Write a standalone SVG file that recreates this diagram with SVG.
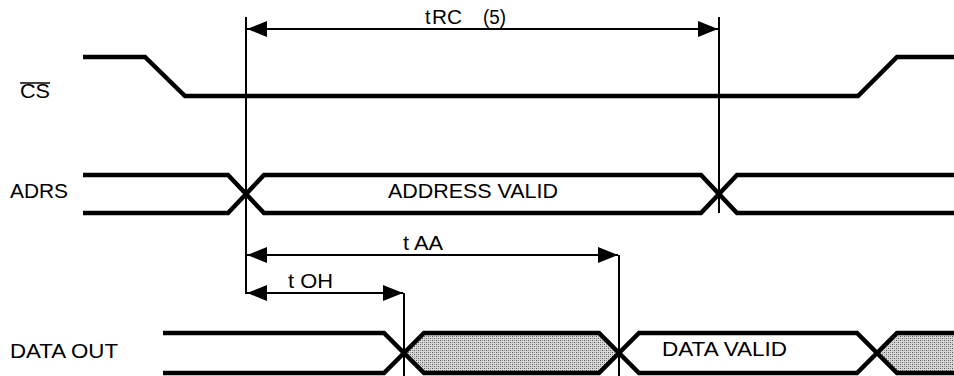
<svg xmlns="http://www.w3.org/2000/svg" width="954" height="376" viewBox="0 0 954 376">
<style>
.sig{fill:none;stroke:#000;stroke-width:4.5;stroke-linejoin:miter}
.ref{fill:none;stroke:#000;stroke-width:2}
.dim{fill:none;stroke:#000;stroke-width:2.2}
.lbl{font-family:"Liberation Sans",Arial,sans-serif;font-size:20px;fill:#000}
.hatch{fill:url(#stip);stroke:none}
</style>
<defs>
<pattern id="stip" width="4" height="4" patternUnits="userSpaceOnUse">
<rect width="4" height="4" fill="#d8d8d8"/>
<rect x="0" y="0" width="1" height="1" fill="#555"/>
<rect x="2" y="2" width="1" height="1" fill="#555"/>
<rect x="2" y="0" width="1" height="1" fill="#999"/>
<rect x="0" y="2" width="1" height="1" fill="#999"/>
</pattern>
<marker id="ah" markerWidth="20" markerHeight="16" refX="20" refY="8" orient="auto-start-reverse" markerUnits="userSpaceOnUse">
<path d="M0,0 L20,8 L0,16 Z" fill="#000"/>
</marker>
</defs>

<g id="cs">
<text class="lbl" x="20" y="98" textLength="30" lengthAdjust="spacingAndGlyphs">CS</text>
<line x1="20" y1="83" x2="50" y2="83" stroke="#000" stroke-width="1.5"/>
<path class="sig" d="M83,57 H145 L185,96 H858 L897,57 H954"/>
</g>

<g id="adrs">
<text class="lbl" x="10" y="198" textLength="58" lengthAdjust="spacingAndGlyphs">ADRS</text>
<path class="sig" d="M83,175 H228 L264,213 H701 L737,175 H954"/>
<path class="sig" d="M83,213 H228 L264,175 H701 L737,213 H954"/>
<text class="lbl" x="388" y="198" textLength="170" lengthAdjust="spacingAndGlyphs">ADDRESS VALID</text>
</g>

<g id="dataout">
<text class="lbl" x="10" y="358" textLength="108" lengthAdjust="spacingAndGlyphs">DATA OUT</text>
<polygon class="hatch" points="404,353 424,333 599,333 619,353 599,373 424,373"/>
<polygon class="hatch" points="877,353 897,333 954,333 954,373 897,373"/>
<path class="sig" d="M163,333 H384 L424,373 H599 L639,333 H857 L897,373 H954"/>
<path class="sig" d="M163,373 H384 L424,333 H599 L639,373 H857 L897,333 H954"/>
<text class="lbl" x="662" y="356" textLength="125" lengthAdjust="spacingAndGlyphs">DATA VALID</text>
</g>

<g id="connectors">
<line class="ref" x1="246" y1="17" x2="246" y2="294"/>
<line class="ref" x1="719" y1="17" x2="719" y2="213"/>
<line class="ref" x1="404" y1="293" x2="404" y2="376"/>
<line class="ref" x1="619" y1="255" x2="619" y2="376"/>
<line class="dim" x1="247" y1="29" x2="718" y2="29" marker-start="url(#ah)" marker-end="url(#ah)"/>
<line class="dim" x1="247" y1="255" x2="618" y2="255" marker-start="url(#ah)" marker-end="url(#ah)"/>
<line class="dim" x1="247" y1="293" x2="403" y2="293" marker-start="url(#ah)" marker-end="url(#ah)"/>
<text class="lbl" y="24"><tspan x="425">t</tspan><tspan x="432" textLength="30" lengthAdjust="spacingAndGlyphs">RC</tspan><tspan x="483" textLength="23" lengthAdjust="spacingAndGlyphs">(5)</tspan></text>
<text class="lbl" x="403" y="250" textLength="40" lengthAdjust="spacingAndGlyphs">t AA</text>
<text class="lbl" x="288" y="288" textLength="45" lengthAdjust="spacingAndGlyphs">t OH</text>
</g>
</svg>
